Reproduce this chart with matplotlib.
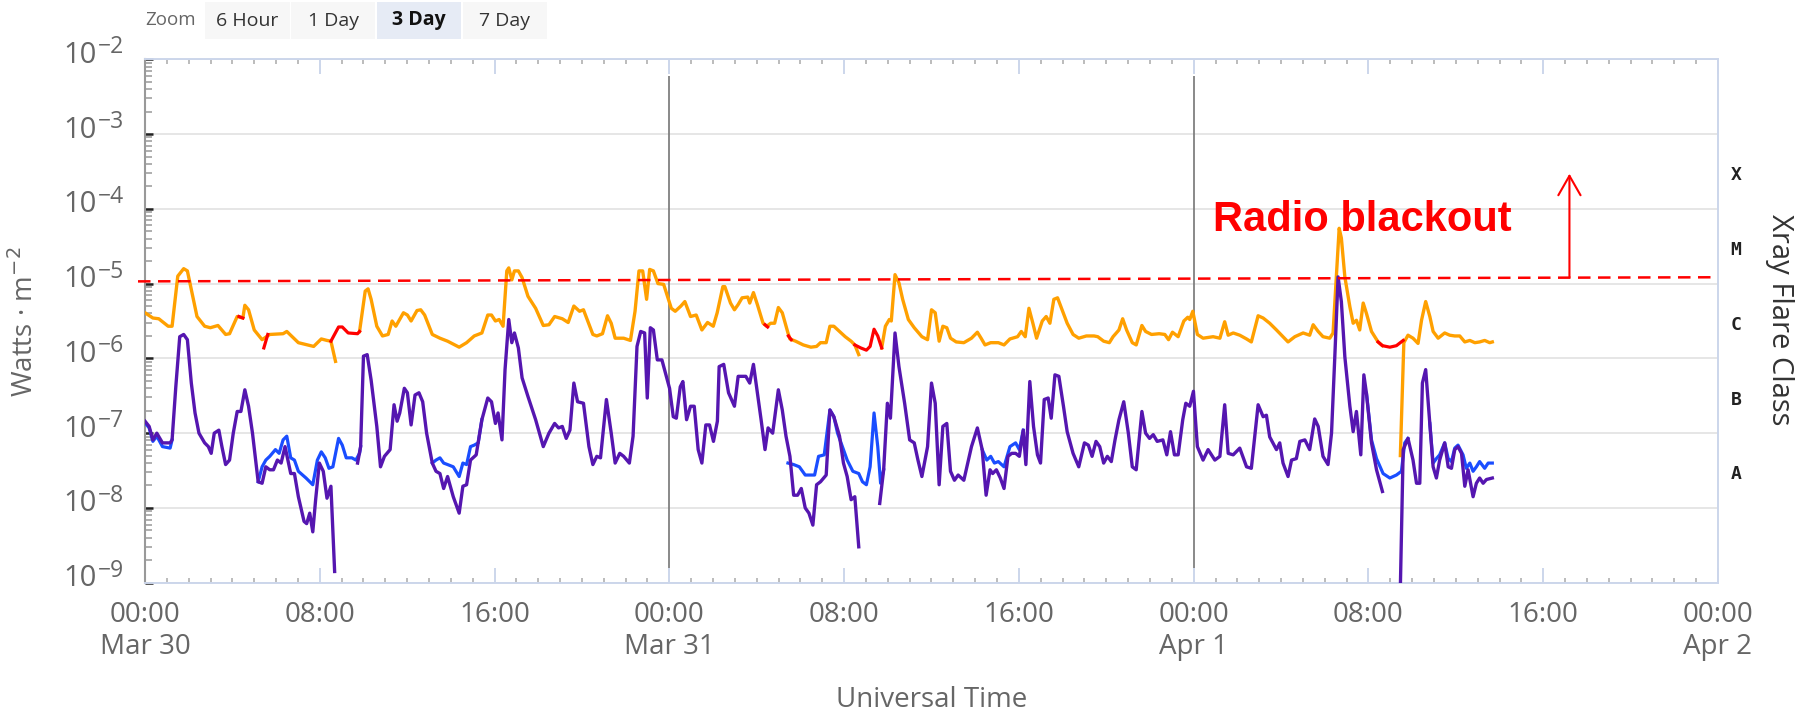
#!/usr/bin/env python3

"""
GOES X-ray flux, 3 day view (Mar 30 - Apr 2), with radio blackout threshold.
"""

import numpy as np
import matplotlib
matplotlib.use("Agg")
import matplotlib.pyplot as plt
import matplotlib.transforms as mtransforms
from matplotlib.patches import Rectangle
from matplotlib.ticker import FixedLocator, LogLocator, NullFormatter

NaN = np.nan

# (hours since Mar 30 00:00 UT, log10 flux in W/m^2); NaN marks a data gap
xray_long = [
    (0.00, -5.39), (0.36, -5.46), (0.63, -5.47), (1.06, -5.57), (1.24, -5.57),
    (1.50, -4.90), (1.77, -4.80), (1.94, -4.83), (2.12, -5.08), (2.38, -5.44),
    (2.73, -5.57), (2.99, -5.59), (3.34, -5.56), (3.69, -5.68), (3.87, -5.67),
    (4.22, -5.44), (4.48, -5.46), (4.57, -5.29), (4.74, -5.35), (5.00, -5.62),
    (5.36, -5.75), (5.71, -5.68), (6.32, -5.67), (6.49, -5.64), (7.02, -5.79),
    (7.72, -5.84), (8.07, -5.74), (8.33, -5.76), (8.51, -5.77), (8.72, -6.04),
    (NaN, NaN),
    (9.82, -5.64), (10.08, -5.10), (10.21, -5.07), (10.35, -5.21), (10.61, -5.57),
    (10.87, -5.70), (11.13, -5.68), (11.31, -5.50), (11.48, -5.57), (11.83, -5.39),
    (12.01, -5.42), (12.18, -5.50), (12.45, -5.36), (12.62, -5.35), (12.80, -5.42),
    (13.15, -5.68), (13.50, -5.73), (13.85, -5.77), (14.38, -5.85), (14.72, -5.79),
    (15.07, -5.70), (15.42, -5.66), (15.69, -5.42), (15.86, -5.42), (16.04, -5.50),
    (16.21, -5.48), (16.39, -5.57), (16.56, -4.83), (16.65, -4.79), (16.79, -4.95),
    (16.91, -4.83), (17.09, -4.83), (17.26, -4.92), (17.53, -5.17), (17.88, -5.33),
    (18.23, -5.56), (18.49, -5.55), (18.75, -5.44), (19.10, -5.47), (19.37, -5.52),
    (19.63, -5.30), (19.89, -5.37), (20.07, -5.35), (20.50, -5.68), (20.68, -5.70),
    (20.94, -5.67), (21.17, -5.43), (21.34, -5.53), (21.52, -5.73), (21.91, -5.73),
    (22.22, -5.76), (22.43, -5.37), (22.61, -4.83), (22.78, -4.83), (22.96, -5.21),
    (23.10, -4.81), (23.27, -4.83), (23.48, -5.00), (23.74, -5.01), (24.09, -5.33),
    (24.27, -5.37), (24.53, -5.30), (24.71, -5.24), (24.97, -5.44), (25.23, -5.42),
    (25.49, -5.62), (25.75, -5.52), (26.01, -5.57), (26.19, -5.39), (26.45, -5.04),
    (26.54, -5.04), (26.80, -5.26), (26.98, -5.35), (27.15, -5.28), (27.33, -5.19),
    (27.59, -5.18), (27.68, -5.26), (27.85, -5.12), (28.03, -5.28), (28.29, -5.53),
    (28.46, -5.57), (28.64, -5.53), (28.82, -5.53), (28.99, -5.32), (29.17, -5.39),
    (29.43, -5.66), (29.52, -5.74), (29.78, -5.77), (30.13, -5.82), (30.48, -5.85),
    (30.74, -5.84), (30.92, -5.79), (31.18, -5.79), (31.35, -5.57), (31.53, -5.57),
    (31.79, -5.64), (32.05, -5.71), (32.32, -5.77), (32.49, -5.82), (32.67, -5.95),
    (NaN, NaN),
    (33.72, -5.86), (33.89, -5.57), (34.07, -5.48), (34.16, -5.50), (34.33, -4.88),
    (34.51, -4.99), (34.68, -5.21), (34.94, -5.48), (35.21, -5.59), (35.56, -5.71),
    (35.82, -5.75), (36.00, -5.35), (36.17, -5.39), (36.35, -5.77), (36.52, -5.57),
    (36.70, -5.59), (36.87, -5.73), (37.13, -5.78), (37.48, -5.79), (37.83, -5.73),
    (38.10, -5.65), (38.27, -5.73), (38.45, -5.82), (38.71, -5.79), (39.06, -5.79),
    (39.32, -5.82), (39.59, -5.74), (39.94, -5.71), (40.11, -5.64), (40.29, -5.71),
    (40.46, -5.33), (40.64, -5.53), (40.81, -5.73), (41.07, -5.50), (41.25, -5.44),
    (41.42, -5.53), (41.60, -5.21), (41.77, -5.19), (41.95, -5.33), (42.21, -5.53),
    (42.48, -5.68), (42.74, -5.73), (43.09, -5.70), (43.44, -5.70), (43.61, -5.71),
    (43.88, -5.77), (44.14, -5.79), (44.31, -5.71), (44.58, -5.62), (44.75, -5.47),
    (44.93, -5.62), (45.19, -5.79), (45.37, -5.82), (45.63, -5.56), (45.80, -5.64),
    (46.07, -5.68), (46.42, -5.67), (46.68, -5.68), (46.85, -5.75), (47.03, -5.65),
    (47.29, -5.71), (47.55, -5.50), (47.73, -5.45), (47.82, -5.48), (47.96, -5.37),
    (48.17, -5.68), (48.43, -5.73), (48.89, -5.71), (49.20, -5.73), (49.42, -5.51),
    (49.58, -5.69), (49.81, -5.66), (50.11, -5.69), (50.42, -5.74), (50.64, -5.78),
    (50.95, -5.43), (51.18, -5.46), (51.48, -5.53), (51.79, -5.62), (52.02, -5.69),
    (52.32, -5.78), (52.63, -5.71), (53.01, -5.66), (53.31, -5.69), (53.47, -5.55),
    (53.70, -5.64), (53.92, -5.71), (54.23, -5.73), (54.38, -5.66), (54.53, -4.91),
    (54.66, -4.26), (54.76, -4.39), (54.92, -4.91), (55.15, -5.31), (55.30, -5.53),
    (55.45, -5.49), (55.60, -5.62), (55.76, -5.26), (55.91, -5.40), (56.14, -5.64),
    (56.44, -5.78), (56.64, -5.83),
    (NaN, NaN),
    (57.46, -7.30), (57.62, -5.79), (57.81, -5.69), (58.04, -5.73), (58.27, -5.80),
    (58.43, -5.49), (58.62, -5.24), (58.81, -5.44), (58.96, -5.64), (59.19, -5.73),
    (59.49, -5.66), (59.72, -5.69), (59.95, -5.70), (60.18, -5.70), (60.41, -5.78),
    (60.64, -5.76), (60.87, -5.79), (61.09, -5.78), (61.32, -5.76), (61.55, -5.79),
    (61.67, -5.78),
]

# second satellite, long channel: only the stretches where it shows
xray_long_2 = [
    (4.30, -5.44), (4.48, -5.46), (NaN, NaN),
    (5.44, -5.86), (5.62, -5.68), (NaN, NaN),
    (8.51, -5.77), (8.86, -5.58), (9.03, -5.58), (9.30, -5.66), (9.73, -5.67),
    (9.82, -5.64), (NaN, NaN),
    (28.38, -5.55), (28.50, -5.58), (NaN, NaN),
    (29.45, -5.70), (29.58, -5.75), (NaN, NaN),
    (32.49, -5.82), (32.76, -5.86), (33.02, -5.89), (33.19, -5.84), (33.37, -5.61),
    (33.54, -5.70), (33.72, -5.86), (NaN, NaN),
    (56.44, -5.78), (56.64, -5.83), (56.98, -5.85), (57.28, -5.83), (57.59, -5.76),
]

xray_short = [
    (0.00, -6.84), (0.19, -6.91), (0.36, -7.09), (0.54, -7.00), (0.80, -7.13),
    (1.15, -7.13), (1.24, -7.09), (1.41, -6.38), (1.59, -5.71), (1.77, -5.68),
    (1.94, -5.75), (2.12, -6.33), (2.29, -6.73), (2.47, -7.00), (2.73, -7.13),
    (2.90, -7.18), (3.03, -7.27), (3.17, -7.00), (3.38, -6.96), (3.52, -7.18),
    (3.69, -7.42), (3.87, -7.36), (4.04, -7.00), (4.22, -6.71), (4.39, -6.71),
    (4.57, -6.42), (4.74, -6.64), (4.92, -7.00), (5.18, -7.65), (5.36, -7.67),
    (5.53, -7.45), (5.71, -7.49), (5.88, -7.49), (6.06, -7.36), (6.23, -7.40),
    (6.41, -7.18), (6.67, -7.54), (6.84, -7.54), (7.02, -7.85), (7.28, -8.18),
    (7.40, -8.21), (7.54, -8.07), (7.68, -8.32), (7.81, -7.89), (7.98, -7.40),
    (8.16, -7.51), (8.33, -7.87), (8.51, -7.71), (8.68, -8.85),
    (NaN, NaN),
    (9.73, -7.40), (9.87, -7.18), (10.00, -5.97), (10.17, -5.95), (10.35, -6.29),
    (10.61, -6.91), (10.78, -7.45), (10.96, -7.31), (11.22, -7.22), (11.40, -6.62),
    (11.54, -6.84), (11.66, -6.73), (11.87, -6.40), (12.01, -6.46), (12.18, -6.89),
    (12.36, -6.49), (12.54, -6.46), (12.71, -6.58), (12.89, -7.00), (13.15, -7.40),
    (13.32, -7.51), (13.50, -7.54), (13.67, -7.74), (13.85, -7.58), (14.11, -7.85),
    (14.38, -8.07), (14.55, -7.71), (14.72, -7.69), (14.90, -7.36), (15.16, -7.29),
    (15.42, -6.82), (15.69, -6.53), (15.86, -6.58), (16.04, -6.87), (16.16, -6.73),
    (16.34, -7.09), (16.48, -6.15), (16.65, -5.48), (16.79, -5.79), (16.91, -5.66),
    (17.09, -5.86), (17.26, -6.26), (17.53, -6.51), (17.88, -6.82), (18.23, -7.18),
    (18.49, -7.00), (18.75, -6.87), (18.93, -6.93), (19.10, -6.91), (19.28, -7.07),
    (19.45, -6.96), (19.63, -6.33), (19.80, -6.58), (20.07, -6.60), (20.32, -7.18),
    (20.50, -7.42), (20.68, -7.31), (20.85, -7.33), (21.12, -6.55), (21.34, -7.00),
    (21.52, -7.40), (21.73, -7.27), (21.91, -7.31), (22.17, -7.40), (22.34, -7.04),
    (22.52, -5.84), (22.69, -5.64), (22.87, -5.66), (22.99, -6.53), (23.13, -5.59),
    (23.27, -5.62), (23.45, -6.02), (23.66, -6.02), (24.01, -6.40), (24.18, -6.78),
    (24.32, -6.80), (24.50, -6.38), (24.62, -6.31), (24.79, -6.82), (24.97, -6.64),
    (25.14, -6.64), (25.32, -7.22), (25.49, -7.40), (25.67, -6.89), (25.84, -6.89),
    (26.02, -7.11), (26.20, -6.84), (26.28, -6.11), (26.49, -6.08), (26.71, -6.46),
    (26.98, -6.64), (27.15, -6.24), (27.50, -6.24), (27.68, -6.33), (27.85, -6.08),
    (28.03, -6.46), (28.20, -6.82), (28.38, -7.22), (28.52, -6.93), (28.73, -7.00),
    (28.99, -6.42), (29.17, -6.69), (29.34, -7.04), (29.52, -7.31), (29.69, -7.83),
    (29.87, -7.83), (30.04, -7.74), (30.22, -8.00), (30.39, -8.07), (30.57, -8.23),
    (30.74, -7.69), (30.92, -7.65), (31.18, -7.56), (31.35, -6.69), (31.53, -6.78),
    (31.79, -7.04), (31.97, -7.40), (32.14, -7.58), (32.32, -7.89), (32.49, -7.85),
    (32.67, -8.52),
    (NaN, NaN),
    (33.63, -7.94), (33.81, -7.49), (33.98, -6.60), (34.12, -6.80), (34.33, -5.66),
    (34.51, -6.11), (34.77, -6.60), (35.00, -7.09), (35.21, -7.13), (35.38, -7.36),
    (35.56, -7.58), (35.82, -7.18), (36.00, -6.33), (36.17, -6.60), (36.35, -7.69),
    (36.52, -6.91), (36.70, -6.87), (36.87, -7.51), (37.05, -7.63), (37.22, -7.56),
    (37.48, -7.63), (37.66, -7.40), (37.83, -7.18), (38.10, -6.93), (38.32, -7.22),
    (38.50, -7.83), (38.68, -7.49), (38.80, -7.54), (38.97, -7.49), (39.15, -7.60),
    (39.32, -7.74), (39.50, -7.31), (39.67, -7.27), (39.85, -7.27), (40.02, -7.31),
    (40.20, -6.96), (40.32, -7.42), (40.50, -6.31), (40.67, -6.91), (40.85, -7.29),
    (40.99, -7.40), (41.16, -6.55), (41.34, -6.53), (41.48, -6.80), (41.65, -6.22),
    (41.83, -6.24), (42.04, -6.64), (42.21, -6.98), (42.48, -7.27), (42.74, -7.45),
    (43.00, -7.13), (43.18, -7.16), (43.35, -7.31), (43.53, -7.11), (43.70, -7.18),
    (43.88, -7.40), (44.05, -7.31), (44.23, -7.38), (44.40, -7.09), (44.58, -6.82),
    (44.80, -6.58), (45.01, -7.00), (45.19, -7.45), (45.37, -7.49), (45.63, -6.71),
    (45.80, -7.00), (45.98, -7.07), (46.15, -7.02), (46.33, -7.11), (46.59, -7.09),
    (46.77, -7.29), (46.94, -6.98), (47.12, -7.29), (47.29, -7.29), (47.50, -6.82),
    (47.64, -6.60), (47.82, -6.64), (47.99, -6.44), (48.17, -7.18), (48.43, -7.36),
    (48.66, -7.22), (48.97, -7.36), (49.20, -7.31), (49.42, -6.62), (49.58, -7.27),
    (49.81, -7.29), (50.11, -7.20), (50.42, -7.45), (50.64, -7.47), (50.95, -6.62),
    (51.18, -6.78), (51.33, -6.76), (51.48, -7.05), (51.79, -7.22), (51.94, -7.13),
    (52.09, -7.40), (52.32, -7.58), (52.48, -7.36), (52.70, -7.34), (52.86, -7.11),
    (53.09, -7.09), (53.31, -7.22), (53.54, -6.81), (53.70, -6.91), (53.92, -7.31),
    (54.15, -7.42), (54.31, -7.00), (54.46, -5.98), (54.61, -4.91), (54.76, -5.24),
    (54.92, -5.98), (55.15, -6.64), (55.30, -6.98), (55.45, -6.71), (55.65, -7.29),
    (55.79, -6.22), (55.91, -6.47), (56.14, -7.13), (56.37, -7.49), (56.64, -7.78),
    (NaN, NaN),
    (57.43, -9.50), (57.59, -7.22), (57.81, -7.07), (58.04, -7.36), (58.20, -7.67),
    (58.35, -7.67), (58.47, -6.33), (58.62, -6.15), (58.81, -6.87), (58.96, -7.45),
    (59.11, -7.60), (59.26, -7.36), (59.49, -7.13), (59.65, -7.45), (59.80, -7.47),
    (59.95, -7.22), (60.10, -7.18), (60.26, -7.27), (60.41, -7.71), (60.56, -7.49),
    (60.79, -7.85), (60.94, -7.67), (61.09, -7.60), (61.25, -7.67), (61.40, -7.62),
    (61.67, -7.60),
]

# second satellite, short channel: stretches where it parts from the first
xray_short_2 = [
    (0.00, -6.86), (0.19, -6.93), (0.36, -7.11), (0.54, -7.04), (0.80, -7.18),
    (1.15, -7.20), (1.24, -7.09), (NaN, NaN),
    (5.18, -7.65), (5.36, -7.45), (5.53, -7.36), (5.71, -7.31), (5.97, -7.22),
    (6.14, -7.27), (6.32, -7.09), (6.49, -7.04), (6.67, -7.33), (6.84, -7.36),
    (7.02, -7.51), (7.37, -7.60), (7.68, -7.69), (7.89, -7.36), (8.07, -7.25),
    (8.25, -7.33), (8.42, -7.47), (8.60, -7.45), (8.86, -7.07), (9.03, -7.16),
    (9.21, -7.33), (9.47, -7.33), (9.65, -7.36), (9.82, -7.27), (9.87, -7.18),
    (NaN, NaN),
    (13.15, -7.40), (13.32, -7.36), (13.50, -7.33), (13.67, -7.40), (13.85, -7.42),
    (14.11, -7.45), (14.38, -7.58), (14.55, -7.40), (14.72, -7.42), (14.90, -7.18),
    (15.07, -7.16), (15.25, -7.13), (15.42, -6.82), (NaN, NaN),
    (29.43, -7.40), (29.69, -7.42), (29.95, -7.45), (30.22, -7.56), (30.65, -7.56),
    (30.83, -7.31), (31.09, -7.29), (31.35, -6.69), (31.53, -6.78), (31.70, -7.00),
    (31.97, -7.22), (32.14, -7.36), (32.40, -7.51), (32.67, -7.54), (32.84, -7.65),
    (33.02, -7.69), (33.19, -7.45), (33.37, -6.73), (33.54, -7.18), (33.67, -7.67),
    (33.81, -7.49), (NaN, NaN),
    (38.32, -7.22), (38.53, -7.36), (38.71, -7.31), (38.88, -7.40), (39.06, -7.38),
    (39.32, -7.45), (39.59, -7.18), (39.85, -7.13), (40.02, -7.22), (40.20, -6.96),
    (NaN, NaN),
    (55.91, -6.47), (56.14, -7.09), (56.37, -7.34), (56.67, -7.54), (56.98, -7.60),
    (57.28, -7.56), (57.51, -7.51), (57.66, -7.13), (57.81, -7.07), (NaN, NaN),
    (58.81, -6.87), (58.96, -7.40), (59.11, -7.34), (59.26, -7.29), (59.49, -7.13),
    (59.65, -7.34), (59.80, -7.38), (59.95, -7.20), (60.10, -7.16), (60.33, -7.29),
    (60.48, -7.47), (60.64, -7.40), (60.79, -7.51), (60.94, -7.45), (61.09, -7.38),
    (61.32, -7.47), (61.48, -7.40), (61.67, -7.40),
]

x_tick_hours = [0, 8, 16, 24, 32, 40, 48, 56, 64, 72]
x_tick_labels = ["00:00\nMar 30", "08:00", "16:00", "00:00\nMar 31", "08:00",
                 "16:00", "00:00\nApr 1", "08:00", "16:00", "00:00\nApr 2"]
y_decades = [-9, -8, -7, -6, -5, -4, -3, -2]
day_lines = [24, 48]
flare_classes = ["A", "B", "C", "M", "X"]
class_floor = [-8, -7, -6, -5, -4]
zoom_buttons = ["6 Hour", "1 Day", "3 Day", "7 Day"]
blackout_level = [-4.97, -4.915]   # drawn threshold, slightly tilted by hand
arrow_hour = 65.2
arrow_top = -3.53

W, H = 1799, 713
GREY = "#666666"
AXIS_BLUE = "#ccd6eb"

plt.rcParams["font.family"] = ["Open Sans", "DejaVu Sans"]

fig = plt.figure(figsize=(W / 100, H / 100), dpi=100)
left, right, top, bottom = 145, 1718, 59.3, 582.7
ax = fig.add_axes([left / W, 1 - bottom / H, (right - left) / W, (bottom - top) / H])


def series(pairs):
    arr = np.array(pairs, dtype=float)
    return arr[:, 0], 10.0 ** arr[:, 1]


def px_shift(dx, dy):
    """ offset in figure pixels (dpi 100) """
    return mtransforms.ScaledTranslation(dx / 100, dy / 100, fig.dpi_scale_trans)


for h in day_lines:
    ax.vlines(h, 10 ** -8.8, 10 ** -2.22, color="#808080", lw=1.3, zorder=1)

t, f = series(xray_short_2)
ax.plot(t, f, color="#1a4dff", lw=2.3, zorder=3)
t, f = series(xray_short)
ax.plot(t, f, color="#5516b0", lw=2.4, zorder=4)
t, f = series(xray_long)
ax.plot(t, f, color="#ffa000", lw=2.4, zorder=3)
t, f = series(xray_long_2)
ax.plot(t, f, color="#ff0000", lw=2.3, zorder=4)

ax.set_yscale("log")
ax.set_ylim(1e-9, 1e-2)
ax.set_xlim(0, 72)

# threshold line and arrow
ax.plot([-0.32, 72], [10 ** blackout_level[0], 10 ** blackout_level[1]],
        color="red", lw=1.8, ls=(0, (5, 3)), clip_on=False, zorder=5)
ax.annotate("", xy=(arrow_hour, 10 ** arrow_top),
            xytext=(arrow_hour, 10 ** blackout_level[1]),
            arrowprops=dict(arrowstyle="->,head_length=0.7,head_width=0.4",
                            color="red", lw=1.5, mutation_scale=20,
                            shrinkA=0, shrinkB=0))
ax.text(48.9, 10 ** -4.295, "Radio blackout", color="red", fontsize=30,
        fontweight="bold", family=["Liberation Sans", "DejaVu Sans"],
        ha="left", va="baseline", zorder=6)

# axes styling
for side in ["top", "right", "bottom"]:
    ax.spines[side].set_color(AXIS_BLUE)
    ax.spines[side].set_linewidth(1.4)
ax.spines["left"].set_color("#999999")
ax.spines["left"].set_linewidth(1.5)

ax.xaxis.set_major_locator(FixedLocator(x_tick_hours))
ax.xaxis.set_minor_locator(FixedLocator(range(73)))
ax.set_xticklabels(x_tick_labels)
ax.tick_params(axis="x", which="major", direction="in", length=11, width=1.4,
               color=AXIS_BLUE, top=True, labelsize=20, labelcolor=GREY, pad=13)
ax.tick_params(axis="x", which="minor", direction="in", length=3.5, width=1.1,
               color="#aaaaaa", top=True)

ax.yaxis.set_major_locator(LogLocator(base=10, numticks=12))
ax.yaxis.set_minor_locator(LogLocator(base=10, subs=np.arange(2, 10), numticks=12))
ax.yaxis.set_major_formatter(NullFormatter())
ax.yaxis.set_minor_formatter(NullFormatter())
ax.tick_params(axis="y", which="major", direction="in", length=6, width=1.8,
               color="#222222")
ax.tick_params(axis="y", which="minor", direction="in", length=5, width=1.1,
               color="#999999")
ax.yaxis.grid(True, which="major", color="#e6e6e6", lw=1.4)
ax.set_axisbelow(True)

# y tick labels drawn as "10" plus a raised exponent, like the original
ylab = mtransforms.blended_transform_factory(ax.transAxes, ax.transData)
for e in y_decades:
    ax.text(0, 10.0 ** e, "10", transform=ylab + px_shift(-48, -3.5),
            ha="right", va="baseline", fontsize=21, color=GREY)
    ax.text(0, 10.0 ** e, "\u2212%d" % abs(e), transform=ylab + px_shift(-47, 6),
            ha="left", va="baseline", fontsize=16.5, color=GREY)

fig.text(25 / W, 1 - 322 / H, "Watts · m$^{-2}$", rotation=90, ha="center",
         va="center", fontsize=20, color=GREY)
fig.text(931.5 / W, 1 - 700 / H, "Universal Time", ha="center", va="center",
         fontsize=20, color=GREY)

# flare class labels on the right
for name, floor in zip(flare_classes, class_floor):
    ax.text(1, 10 ** (floor + 0.45), name, transform=ylab + px_shift(18, 0),
            ha="center", va="center", fontsize=13, fontweight="bold",
            family="DejaVu Sans Mono", color="#222222", clip_on=False)
fig.text(1765 / W, 1 - 320 / H, "Xray Flare Class", rotation=-90, ha="left",
         va="center", fontsize=21, color="#333333")

# zoom buttons above the chart
fig.text(145 / W, 1 - 20 / H, "Zoom", ha="left", va="center", fontsize=13.5,
         color=GREY)
bx0, bw, gap = 205.5, 84.2, 1.6
for i, label in enumerate(zoom_buttons):
    x0 = bx0 + i * (bw + gap)
    selected = label == "3 Day"
    fig.add_artist(Rectangle((x0 / W, 1 - 39.3 / H), bw / W, 37.6 / H,
                             transform=fig.transFigure,
                             facecolor="#e6ebf5" if selected else "#f7f7f7",
                             edgecolor="none"))
    fig.text((x0 + bw / 2) / W, 1 - 20.5 / H, label, ha="center", va="center",
             fontsize=14, color="#111111" if selected else "#333333",
             fontweight="bold" if selected else "normal")

fig.savefig("out.png", dpi=100)
